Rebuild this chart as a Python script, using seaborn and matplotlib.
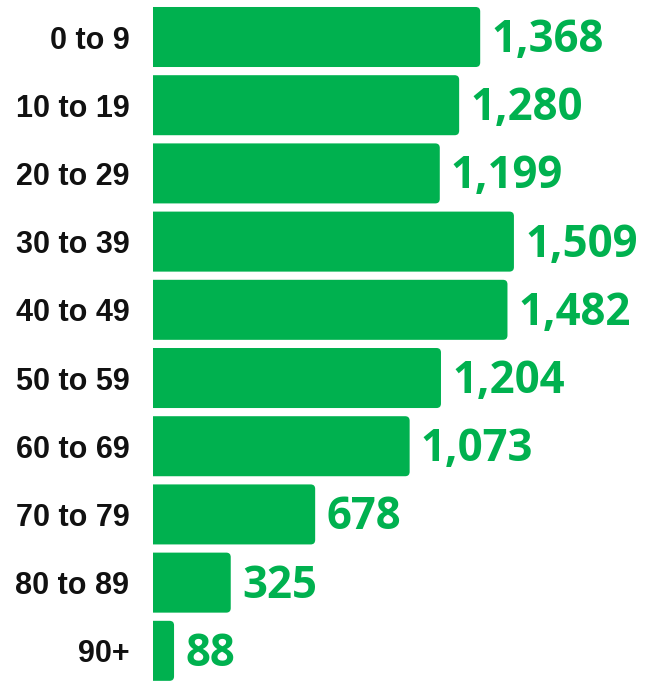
import matplotlib
matplotlib.use("Agg")
import matplotlib.pyplot as plt
import seaborn as sns
import pandas as pd
from matplotlib.patches import FancyBboxPatch

categories = ["0 to 9", "10 to 19", "20 to 29", "30 to 39", "40 to 49",
              "50 to 59", "60 to 69", "70 to 79", "80 to 89", "90+"]
values = [1368, 1280, 1199, 1509, 1482, 1204, 1073, 678, 325, 88]

GREEN = "#00b14f"
df = pd.DataFrame({"age": categories, "count": values})

W, H, DPI = 645, 682, 100
fig = plt.figure(figsize=(W / DPI, H / DPI), dpi=DPI)
ax_left, ax_w = 153, 492
ax = fig.add_axes([ax_left / W, 0, ax_w / W, 1])

sns.barplot(data=df, y="age", x="count", color=GREEN, orient="h",
            width=0.88, ax=ax, saturation=1)

xmax = 2057
ax.set_xlim(0, xmax)
ax.set_ylim(9.457, -0.5425)

# convert rectangles to right-rounded bars
px_per_x = ax_w / xmax
px_per_y = H / (9.457 + 0.5425)
r_px = 4.5
r_x = r_px / px_per_x
aspect = (r_px / px_per_y) / r_x
for p in list(ax.patches):
    x0, y0 = p.get_x(), p.get_y()
    w, h = p.get_width(), p.get_height()
    p.remove()
    fb = FancyBboxPatch((x0 - 3 * r_x, y0), w + 3 * r_x, h,
                        boxstyle=f"round,pad=0,rounding_size={r_x}",
                        mutation_aspect=aspect, facecolor=GREEN,
                        edgecolor="none", clip_on=True)
    ax.add_patch(fb)

for i, v in enumerate(values):
    ax.annotate(f"{v:,}", xy=(v, i), xytext=(8, -2.5), textcoords="offset points",
                ha="left", va="center", color=GREEN, fontsize=31.5,
                fontweight="bold", family=["Open Sans", "DejaVu Sans"],
                annotation_clip=False)

ax.set_xlabel("")
ax.set_ylabel("")
ax.set_xticks([])
ax.tick_params(axis="y", length=0, pad=17)
for lab in ax.get_yticklabels():
    lab.set_fontfamily(["Liberation Sans", "DejaVu Sans"])
    lab.set_fontweight("bold")
    lab.set_fontsize(22)
    lab.set_color("#111111")
for s in ax.spines.values():
    s.set_visible(False)
ax.patch.set_alpha(0)

fig.savefig("out.png", dpi=DPI)
